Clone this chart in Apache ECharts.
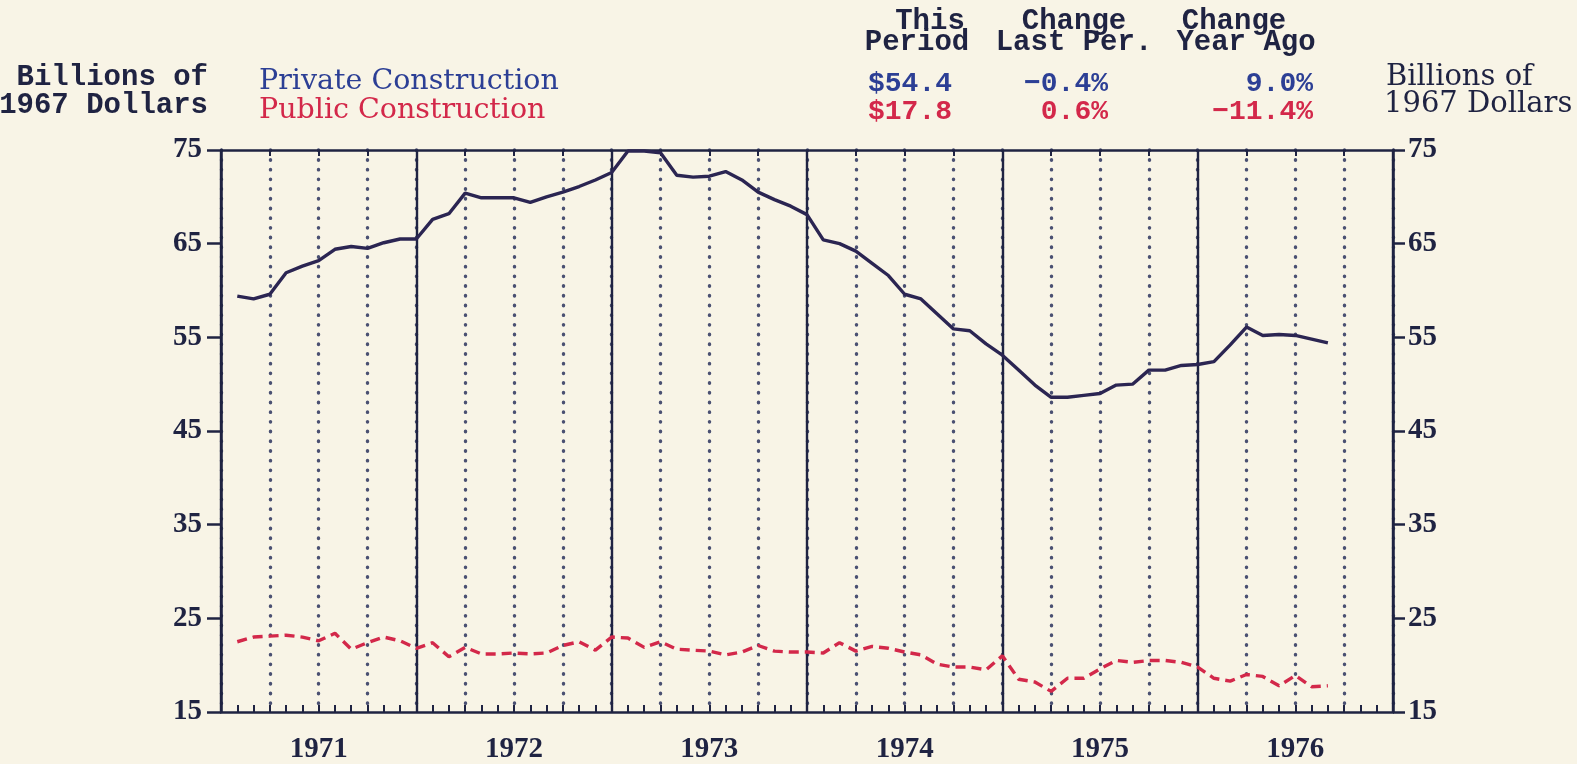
<!DOCTYPE html>
<html>
<head>
<meta charset="utf-8">
<title>Construction in 1967 dollars</title>
<style>
html, body { margin: 0; padding: 0; background: #f8f4e6; }
#chart { width: 1577px; height: 764px; }
</style>
<script src="https://cdn.jsdelivr.net/npm/echarts@6/dist/echarts.min.js"></script>
</head>
<body>
<div id="chart"></div>
<script>
// monthly values, billions of 1967 dollars (first point = end of Jan 1971)
var privateConstruction = [
    59.4, 59.1, 59.6, 61.9, 62.6, 63.2, 64.4, 64.7, 64.5, 65.1, 65.5, 65.5,
    67.6, 68.2, 70.4, 69.9, 69.9, 69.9, 69.4, 70.0, 70.5, 71.1, 71.8, 72.6,
    74.9, 74.9, 74.7, 72.3, 72.1, 72.2, 72.7, 71.8, 70.5, 69.7, 69.0, 68.1,
    65.4, 65.0, 64.2, 62.9, 61.6, 59.6, 59.1, 57.5, 55.9, 55.7, 54.3, 53.1,
    51.5, 49.9, 48.6, 48.6, 48.8, 49.0, 49.9, 50.0, 51.5, 51.5, 52.0, 52.1,
    52.4, 54.2, 56.1, 55.2, 55.3, 55.2, 54.8, 54.4
];
var publicConstruction = [
    22.5, 23.0, 23.1, 23.2, 23.0, 22.6, 23.4, 21.7, 22.4, 23.0, 22.6, 21.8,
    22.4, 20.9, 21.9, 21.2, 21.2, 21.3, 21.2, 21.3, 22.1, 22.5, 21.6, 23.0,
    22.9, 21.9, 22.5, 21.7, 21.6, 21.5, 21.1, 21.4, 22.1, 21.5, 21.4, 21.4,
    21.3, 22.4, 21.5, 22.0, 21.8, 21.4, 21.1, 20.1, 19.8, 19.8, 19.5, 21.0,
    18.5, 18.2, 17.2, 18.6, 18.6, 19.6, 20.5, 20.3, 20.5, 20.5, 20.3, 19.8,
    18.6, 18.3, 19.0, 18.8, 17.8, 18.9, 17.7, 17.8
];
var yearLabels = ['1971', '1972', '1973', '1974', '1975', '1976'];
var seriesNames = ['Private Construction', 'Public Construction'];
var thisPeriod = ['$54.4', '$17.8'];
var changeLastPer = ['\u22120.4%', '0.6%'];
var changeYearAgo = ['9.0%', '\u221211.4%'];

var yMin = 15, yMax = 75, yStep = 10;
var monthsShown = 72;

var navy = '#1f2342';
var blue = '#2c3f95';
var red = '#d3284a';
var mono = '"Liberation Mono", "DejaVu Sans Mono", monospace';
var serif = '"DejaVu Serif", serif';
var numFont = 'Liberation Serif';

function toPoints(values) {
    return values.map(function (v, i) { return [i + 1, v]; });
}

function txt(x, y, text, font, color, align) {
    return {
        type: 'text', x: x, y: y, silent: true,
        style: { text: text, font: font, fill: color, align: align || 'left', verticalAlign: 'middle' }
    };
}

var chart = echarts.init(document.getElementById('chart'));

var headFont = 'bold 29px ' + mono;
var colFont = 'bold 28px ' + mono;

var option = {
    backgroundColor: '#f8f4e6',
    animation: false,
    grid: { left: 221, right: 184, top: 150, bottom: 51, show: false },
    graphic: [
        txt(208, 78, 'Billions of', headFont, navy, 'right'),
        txt(208, 106, '1967 Dollars', headFont, navy, 'right'),
        txt(259, 82, seriesNames[0], '28.5px ' + serif, blue),
        txt(259, 111, seriesNames[1], '28.5px ' + serif, red),
        txt(930, 22, 'This', headFont, navy, 'center'),
        txt(917, 43, 'Period', headFont, navy, 'center'),
        txt(1074, 22, 'Change', headFont, navy, 'center'),
        txt(1074, 43, 'Last Per.', headFont, navy, 'center'),
        txt(1234, 22, 'Change', headFont, navy, 'center'),
        txt(1246, 43, 'Year Ago', headFont, navy, 'center'),
        txt(868, 84, thisPeriod[0], colFont, blue),
        txt(868, 112, thisPeriod[1], colFont, red),
        txt(1108, 84, changeLastPer[0], colFont, blue, 'right'),
        txt(1108, 112, changeLastPer[1], colFont, red, 'right'),
        txt(1313, 84, changeYearAgo[0], colFont, blue, 'right'),
        txt(1313, 112, changeYearAgo[1], colFont, red, 'right'),
        txt(1386, 77, 'Billions of', '29px ' + serif, navy),
        txt(1384, 104, '1967 Dollars', '29px ' + serif, navy)
    ],
    xAxis: [
        {
            type: 'value', min: 0, max: monthsShown, interval: 3, position: 'bottom',
            axisLine: { show: true, onZero: false, lineStyle: { color: navy, width: 2.5 } },
            axisTick: { show: true, inside: true, length: 7, lineStyle: { color: navy, width: 2 } },
            minorTick: { show: true, splitNumber: 3, length: 7, lineStyle: { color: navy, width: 2 } },
            axisLabel: {
                margin: 23, color: navy, fontFamily: numFont, fontWeight: 'bold', fontSize: 29,
                formatter: function (v) { return v % 12 === 6 ? yearLabels[(v - 6) / 12] : ''; }
            },
            splitLine: { show: true, lineStyle: { color: '#4a5072', width: 3.4, type: [0.5, 9.2], cap: 'round' } }
        },
        {
            type: 'value', min: 0, max: monthsShown, interval: 12, position: 'bottom',
            axisLine: { show: false }, axisTick: { show: false }, axisLabel: { show: false },
            splitLine: { show: true, lineStyle: { color: navy, width: 2.4 } }
        },
        {
            type: 'value', min: 0, max: monthsShown, interval: 3, position: 'top',
            axisLine: { show: true, onZero: false, lineStyle: { color: navy, width: 2.5 } },
            axisTick: { show: true, inside: true, length: 6, lineStyle: { color: navy, width: 2 } },
            axisLabel: { show: false }, splitLine: { show: false }
        }
    ],
    yAxis: [
        {
            type: 'value', min: yMin, max: yMax, interval: yStep, position: 'left',
            axisLine: { show: true, onZero: false, lineStyle: { color: navy, width: 2.5 } },
            axisTick: { show: true, length: 14, lineStyle: { color: navy, width: 2.5 } },
            axisLabel: { margin: 19, color: navy, fontFamily: numFont, fontWeight: 'bold', fontSize: 29 },
            splitLine: { show: false }
        },
        {
            type: 'value', min: yMin, max: yMax, interval: yStep, position: 'right',
            axisLine: { show: true, onZero: false, lineStyle: { color: navy, width: 2.5 } },
            axisTick: { show: true, length: 12, lineStyle: { color: navy, width: 2.5 } },
            axisLabel: { margin: 15, color: navy, fontFamily: numFont, fontWeight: 'bold', fontSize: 29 },
            splitLine: { show: false }
        }
    ],
    series: [
        {
            name: seriesNames[0], type: 'line', xAxisIndex: 0, yAxisIndex: 0,
            data: toPoints(privateConstruction), symbol: 'none', z: 5,
            lineStyle: { color: '#2b2552', width: 3.4 }
        },
        {
            name: seriesNames[1], type: 'line', xAxisIndex: 0, yAxisIndex: 0,
            data: toPoints(publicConstruction), symbol: 'none', z: 5,
            lineStyle: { color: red, width: 3.4, type: [10, 6] }
        }
    ]
};

chart.setOption(option);
</script>
</body>
</html>
